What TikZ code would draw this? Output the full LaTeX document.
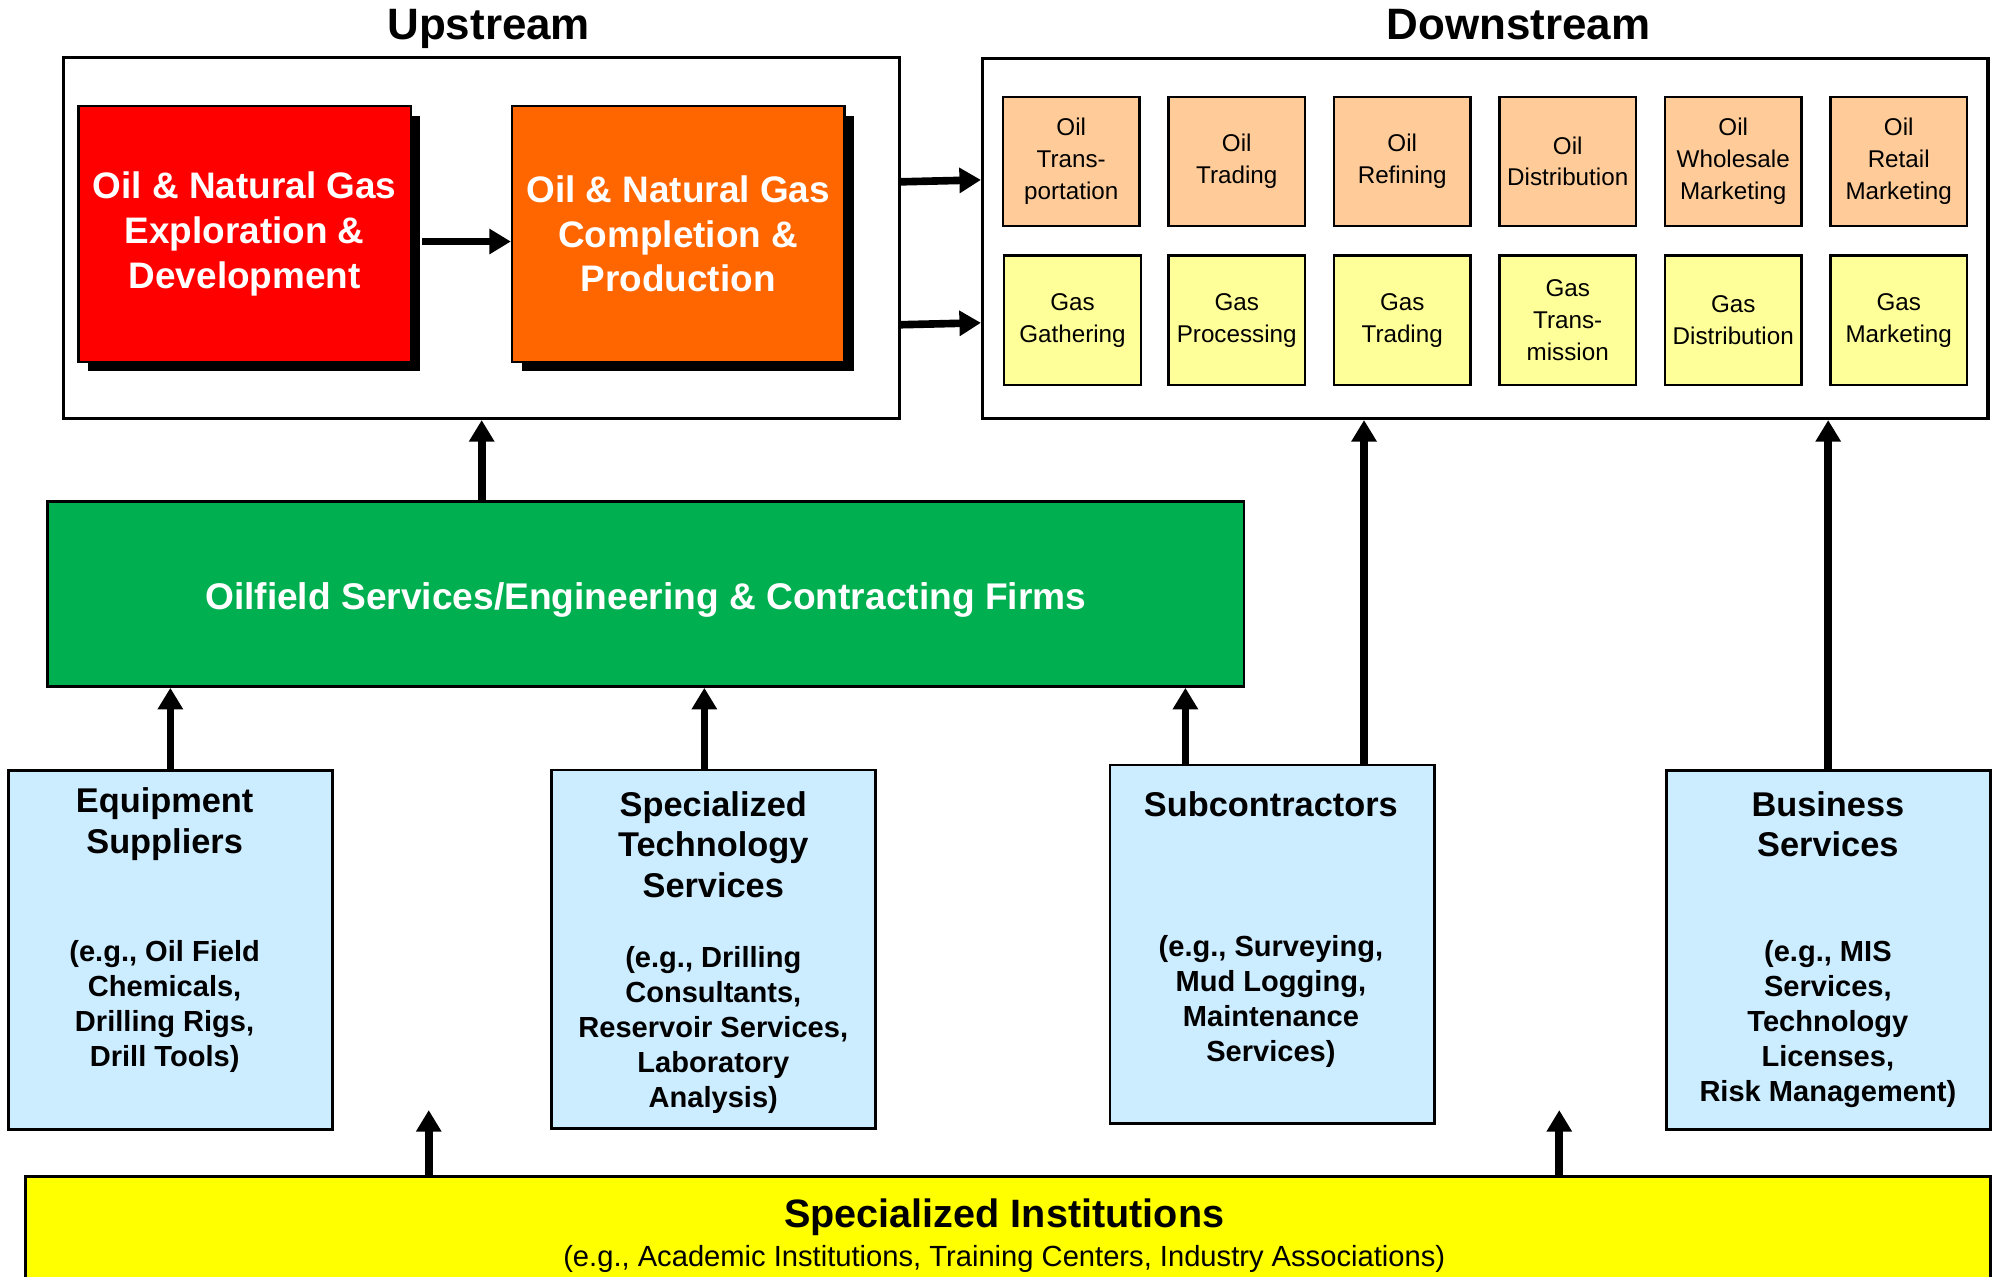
\documentclass[tikz,border=0pt]{standalone}
\usepackage{fontspec}
\setmainfont{Liberation Sans}
\usetikzlibrary{arrows.meta,shadows}

\definecolor{exred}{HTML}{FF0000}
\definecolor{prorange}{HTML}{FF6600}
\definecolor{oilpeach}{HTML}{FFCC99}
\definecolor{gaspale}{HTML}{FFFF99}
\definecolor{svcblue}{HTML}{CCECFF}
\definecolor{ofsgreen}{HTML}{00B050}
\definecolor{instyellow}{HTML}{FFFF00}

\begin{document}
\begin{tikzpicture}[x=0.1mm, y=-0.1mm,
    title/.style={anchor=base, font=\fontsize{9.8}{11}\selectfont\bfseries},
    stage/.style={draw, line width=0.7pt, inner sep=0},
    major/.style={draw, line width=0.5pt, inner sep=0, text=white, align=center,
        minimum width=26.05mm, minimum height=20.05mm,
        font=\fontsize{8.23}{9.96}\selectfont\bfseries,
        execute at begin node={\rule{0pt}{7.7pt}},
        drop shadow={shadow xshift=0.75mm, shadow yshift=-0.75mm, fill=black, opacity=1}},
    seg/.style={draw, line width=0.5pt, inner sep=0, align=center,
        minimum width=10.7mm, minimum height=10.15mm,
        font=\fontsize{5.4}{7.1}\selectfont,
        execute at begin node={\rule{0pt}{5.7pt}}},
    svc/.style={draw, fill=svcblue, line width=0.6pt, inner sep=0,
        minimum width=25.4mm, minimum height=28.1mm},
    head/.style={align=center, font=\fontsize{7.66}{9.1}\selectfont\bfseries},
    eg/.style={align=center, font=\fontsize{6.48}{7.8}\selectfont\bfseries},
    arr/.style={-{Triangle[length=4.8pt,width=5.4pt]}, line width=1.7pt}]

    \path[use as bounding box, fill=white] (0,0) rectangle (1568.2,1000.8);

    \node[title] (uptitle) at (383,31) {Upstream};
    \node[title] (downtitle) at (1190,31) {Downstream};

    \node[stage, minimum width=65.5mm, minimum height=28.3mm] (up) at (377.5,186.5) {};
    \node[stage, minimum width=78.8mm, minimum height=28.2mm] (down) at (1164,187) {};

    \node[major, fill=exred] (expl) at (191.75,183.3) {Oil \& Natural Gas\\Exploration \&\\Development};
    \node[major, fill=prorange] (compl) at (531.5,183.3) {Oil \& Natural Gas\\Completion \&\\Production};
    \draw[arr] ([shift={(8,6)}]expl.east) -- ([shift={(0,6)}]compl.west);

    \node[seg, fill=oilpeach] (o1) at (839.5,126.5) {Oil\\Trans-\\portation};
    \node[seg, fill=oilpeach] (o2) at (969.2,126.5) {Oil\\Trading};
    \node[seg, fill=oilpeach] (o3) at (1098.9,126.5) {Oil\\Refining};
    \node[seg, fill=oilpeach] (o4) at (1228.6,126.5) {Oil\\Distribution};
    \node[seg, fill=oilpeach] (o5) at (1358.3,126.5) {Oil\\Wholesale\\Marketing};
    \node[seg, fill=oilpeach] (o6) at (1488,126.5) {Oil\\Retail\\Marketing};

    \node[seg, fill=gaspale] (g1) at (840.5,251) {Gas\\Gathering};
    \node[seg, fill=gaspale] (g2) at (969.2,251) {Gas\\Processing};
    \node[seg, fill=gaspale] (g3) at (1098.9,251) {Gas\\Trading};
    \node[seg, fill=gaspale] (g4) at (1228.6,251) {Gas\\Trans-\\mission};
    \node[seg, fill=gaspale] (g5) at (1358.3,251) {Gas\\Distribution};
    \node[seg, fill=gaspale] (g6) at (1488,251) {Gas\\Marketing};

    \draw[arr] ([shift={(0,-44)}]up.east) -- ([shift={(0,-46)}]down.west);
    \draw[arr] ([shift={(0,68)}]up.east) -- ([shift={(0,66)}]down.west);

    \node[draw, fill=ofsgreen, line width=0.6pt, inner sep=0, minimum width=93.8mm, minimum height=14.5mm,
        text=white, font=\fontsize{8.28}{10}\selectfont\bfseries,
        execute at begin node={\rule{0pt}{8.9pt}}] (ofs) at (506,465.5)
        {Oilfield Services/Engineering \& Contracting Firms};
    \draw[arr] (ofs.north -| up.south) -- (up.south);

    \node[svc] (equip) at (133.5,744.5) {};
    \node[head] (equiphead) at (129,646) {Equipment\\Suppliers};
    \node[eg] (equipeg) at (129,789) {(e.g., Oil Field\\Chemicals,\\Drilling Rigs,\\Drill Tools)};

    \node[svc] (tech) at (559,744) {};
    \node[head] (techhead) at (559,662) {Specialized\\Technology\\Services};
    \node[eg] (techeg) at (559,807.5) {(e.g., Drilling\\Consultants,\\Reservoir Services,\\Laboratory\\Analysis)};

    \node[svc] (sub) at (997,740) {};
    \node[head] (subhead) at (996,630) {Subcontractors};
    \node[eg] (subeg) at (996,785) {(e.g., Surveying,\\Mud Logging,\\Maintenance\\Services)};

    \node[svc] (biz) at (1432.75,744.5) {};
    \node[head] (bizhead) at (1432.5,646) {Business\\Services};
    \node[eg] (bizeg) at (1432.5,802.5) {(e.g., MIS\\Services,\\Technology\\Licenses,\\Risk Management)};

    \coordinate (techout) at ([shift={(-7,0)}]tech.north);
    \coordinate (subl) at ([shift={(-68,0)}]sub.north);
    \coordinate (subr) at ([shift={(72,0)}]sub.north);
    \draw[arr] (equip.north) -- (equip.north |- ofs.south);
    \draw[arr] (techout) -- (techout |- ofs.south);
    \draw[arr] (subl) -- (subl |- ofs.south);
    \draw[arr] (subr) -- (subr |- down.south);
    \draw[arr] (biz.north) -- (biz.north |- down.south);

    \node[draw, fill=instyellow, line width=0.7pt, inner sep=0, minimum width=154mm, minimum height=9mm] (inst) at (790,967) {};
    \node[font=\fontsize{8.83}{10}\selectfont\bfseries] (insttitle) at (787,954) {Specialized Institutions};
    \node[font=\fontsize{6.5}{8}\selectfont] (instnote) at (787,987) {(e.g., Academic Institutions, Training Centers, Industry Associations)};

    \coordinate (ia) at (336,870);
    \coordinate (ib) at (1222,870);
    \draw[arr] (ia |- inst.north) -- (ia);
    \draw[arr] (ib |- inst.north) -- (ib);
\end{tikzpicture}
\end{document}
